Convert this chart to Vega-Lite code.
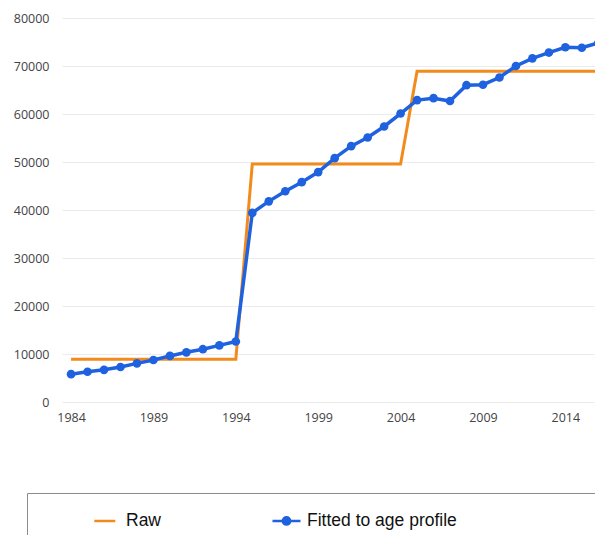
{
  "$schema": "https://vega.github.io/schema/vega-lite/v6.json",
  "width": 533,
  "height": 384,
  "autosize": {"type": "none"},
  "padding": {"left": 62, "top": 18, "right": 0, "bottom": 133},
  "background": "white",
  "config": {"view": {"stroke": null}},
  "data": {"values": [
    {"year": 1984, "series": "Raw", "value": 8900},
    {"year": 1985, "series": "Raw", "value": 8900},
    {"year": 1986, "series": "Raw", "value": 8900},
    {"year": 1987, "series": "Raw", "value": 8900},
    {"year": 1988, "series": "Raw", "value": 8900},
    {"year": 1989, "series": "Raw", "value": 8900},
    {"year": 1990, "series": "Raw", "value": 8900},
    {"year": 1991, "series": "Raw", "value": 8900},
    {"year": 1992, "series": "Raw", "value": 8900},
    {"year": 1993, "series": "Raw", "value": 8900},
    {"year": 1994, "series": "Raw", "value": 8900},
    {"year": 1995, "series": "Raw", "value": 49600},
    {"year": 1996, "series": "Raw", "value": 49600},
    {"year": 1997, "series": "Raw", "value": 49600},
    {"year": 1998, "series": "Raw", "value": 49600},
    {"year": 1999, "series": "Raw", "value": 49600},
    {"year": 2000, "series": "Raw", "value": 49600},
    {"year": 2001, "series": "Raw", "value": 49600},
    {"year": 2002, "series": "Raw", "value": 49600},
    {"year": 2003, "series": "Raw", "value": 49600},
    {"year": 2004, "series": "Raw", "value": 49600},
    {"year": 2005, "series": "Raw", "value": 68900},
    {"year": 2006, "series": "Raw", "value": 68900},
    {"year": 2007, "series": "Raw", "value": 68900},
    {"year": 2008, "series": "Raw", "value": 68900},
    {"year": 2009, "series": "Raw", "value": 68900},
    {"year": 2010, "series": "Raw", "value": 68900},
    {"year": 2011, "series": "Raw", "value": 68900},
    {"year": 2012, "series": "Raw", "value": 68900},
    {"year": 2013, "series": "Raw", "value": 68900},
    {"year": 2014, "series": "Raw", "value": 68900},
    {"year": 2015, "series": "Raw", "value": 68900},
    {"year": 2016, "series": "Raw", "value": 68900},
    {"year": 1984, "series": "Fitted to age profile", "value": 5800},
    {"year": 1985, "series": "Fitted to age profile", "value": 6300},
    {"year": 1986, "series": "Fitted to age profile", "value": 6700},
    {"year": 1987, "series": "Fitted to age profile", "value": 7300},
    {"year": 1988, "series": "Fitted to age profile", "value": 8050},
    {"year": 1989, "series": "Fitted to age profile", "value": 8750},
    {"year": 1990, "series": "Fitted to age profile", "value": 9600},
    {"year": 1991, "series": "Fitted to age profile", "value": 10350},
    {"year": 1992, "series": "Fitted to age profile", "value": 11000},
    {"year": 1993, "series": "Fitted to age profile", "value": 11800},
    {"year": 1994, "series": "Fitted to age profile", "value": 12600},
    {"year": 1995, "series": "Fitted to age profile", "value": 39400},
    {"year": 1996, "series": "Fitted to age profile", "value": 41800},
    {"year": 1997, "series": "Fitted to age profile", "value": 43900},
    {"year": 1998, "series": "Fitted to age profile", "value": 45800},
    {"year": 1999, "series": "Fitted to age profile", "value": 47900},
    {"year": 2000, "series": "Fitted to age profile", "value": 50800},
    {"year": 2001, "series": "Fitted to age profile", "value": 53300},
    {"year": 2002, "series": "Fitted to age profile", "value": 55100},
    {"year": 2003, "series": "Fitted to age profile", "value": 57400},
    {"year": 2004, "series": "Fitted to age profile", "value": 60100},
    {"year": 2005, "series": "Fitted to age profile", "value": 62900},
    {"year": 2006, "series": "Fitted to age profile", "value": 63300},
    {"year": 2007, "series": "Fitted to age profile", "value": 62700},
    {"year": 2008, "series": "Fitted to age profile", "value": 66000},
    {"year": 2009, "series": "Fitted to age profile", "value": 66100},
    {"year": 2010, "series": "Fitted to age profile", "value": 67600},
    {"year": 2011, "series": "Fitted to age profile", "value": 70000},
    {"year": 2012, "series": "Fitted to age profile", "value": 71600},
    {"year": 2013, "series": "Fitted to age profile", "value": 72800},
    {"year": 2014, "series": "Fitted to age profile", "value": 73900},
    {"year": 2015, "series": "Fitted to age profile", "value": 73800},
    {"year": 2016, "series": "Fitted to age profile", "value": 74800}
  ]},
  "encoding": {
    "x": {
      "field": "year", "type": "quantitative",
      "scale": {"domain": [1983.45, 2015.8], "nice": false, "zero": false},
      "axis": {
        "title": null, "values": [1984, 1989, 1994, 1999, 2004, 2009, 2014], "format": "d",
        "grid": false, "domain": false, "ticks": false, "labelPadding": 9,
        "labelFont": "Open Sans", "labelFontSize": 12.5, "labelColor": "#444444",
        "labelFlush": false, "labelOverlap": false
      }
    },
    "y": {
      "field": "value", "type": "quantitative",
      "scale": {"domain": [0, 80000], "nice": false},
      "axis": {
        "title": null, "values": [0, 10000, 20000, 30000, 40000, 50000, 60000, 70000, 80000],
        "format": "d", "grid": true, "gridColor": "#ececec", "gridWidth": 1,
        "domain": false, "ticks": false, "labelPadding": 13,
        "labelFont": "Open Sans", "labelFontSize": 12.5, "labelColor": "#444444"
      }
    },
    "color": {
      "field": "series", "type": "nominal",
      "scale": {"domain": ["Raw", "Fitted to age profile"], "range": ["#f38b1c", "#1f62e0"]},
      "legend": {
        "orient": "none", "legendX": -35, "legendY": 475, "direction": "horizontal",
        "title": " ", "titleOrient": "left", "titlePadding": 51, "titleFontSize": 12,
        "padding": 12, "strokeColor": "#8c8c8c", "fillColor": "white",
        "columnPadding": 105, "labelOffset": 5,
        "labelFont": "Liberation Sans", "labelFontSize": 17.5, "labelColor": "#111111",
        "labelLimit": 0,
        "labelExpr": "datum.label === 'Fitted to age profile' ? datum.label + '\u00a0\u00a0\u00a0\u00a0\u00a0\u00a0\u00a0\u00a0\u00a0\u00a0\u00a0\u00a0\u00a0\u00a0\u00a0\u00a0\u00a0\u00a0\u00a0\u00a0\u00a0\u00a0\u00a0\u00a0\u00a0\u00a0\u00a0\u200b' : datum.label",
        "symbolSize": 784,
        "encode": {
          "symbols": {
            "update": {
              "shape": {"signal": "datum.value === 'Raw' ? 'M-0.8,0L0.7,0' : 'M-1,0L1,0M0.26,0A0.26,0.26,0,1,1,-0.26,0A0.26,0.26,0,1,1,0.26,0Z'"},
              "stroke": {"signal": "datum.value === 'Raw' ? '#ED7D31' : '#0070C0'"},
              "fill": {"signal": "datum.value === 'Raw' ? 'transparent' : '#0070C0'"},
              "strokeWidth": {"value": 2.5},
              "opacity": {"value": 1}
            }
          }
        }
      }
    }
  },
  "layer": [
    {
      "transform": [{"filter": "datum.series === 'Raw'"}],
      "mark": {"type": "line", "strokeWidth": 3, "clip": true, "strokeJoin": "miter"}
    },
    {
      "transform": [{"filter": "datum.series === 'Fitted to age profile'"}],
      "mark": {"type": "line", "strokeWidth": 3.5, "clip": true}
    },
    {
      "transform": [{"filter": "datum.series === 'Fitted to age profile'"}],
      "mark": {"type": "point", "filled": true, "size": 75, "opacity": 1, "clip": true}
    }
  ]
}
